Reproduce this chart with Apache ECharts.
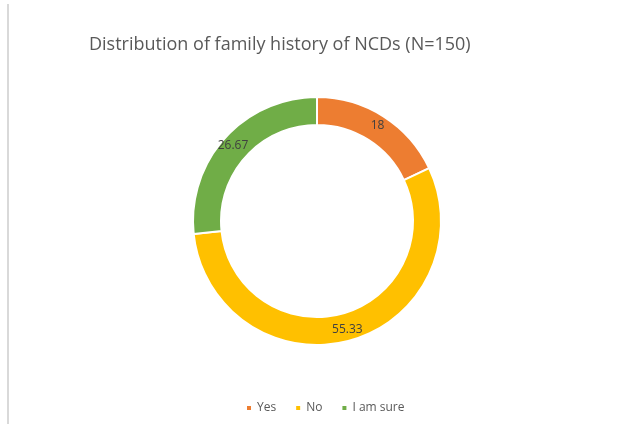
<!DOCTYPE html>
<html><head><meta charset="utf-8">
<script src="https://cdn.jsdelivr.net/npm/echarts@6/dist/echarts.min.js"></script>
<style>html,body{margin:0;padding:0;background:#fff}#c{width:620px;height:424px}</style>
</head><body><div id="c"></div>
<script>
const categories = ['Yes', 'No', 'I am sure'];
const values = [18, 55.33, 26.67];
const colors = ['#ED7D31', '#FFC000', '#70AD47'];
const titleText = 'Distribution of family history of NCDs (N=150)';

const chart = echarts.init(document.getElementById('c'), null, {renderer: 'canvas'});
chart.setOption({
  animation: false,
  backgroundColor: '#ffffff',
  title: {
    text: titleText, left: 84, top: 31,
    textStyle: {fontFamily: 'Open Sans', fontSize: 18, fontWeight: 'normal', color: '#595959'}
  },
  legend: {
    data: categories, top: 397, left: 240,
    icon: 'rect', itemWidth: 6, itemHeight: 6, itemGap: 18,
    textStyle: {fontFamily: 'Open Sans', fontSize: 12, color: '#595959'}
  },
  graphic: [
    {type: 'line', shape: {x1: 8, y1: 4, x2: 8, y2: 424}, style: {stroke: '#d9d9d9', lineWidth: 2}}
  ],
  series: [{
    type: 'pie',
    center: [317, 221],
    radius: [96, 124],
    startAngle: 90,
    clockwise: true,
    data: categories.map((n, i) => ({name: n, value: values[i], itemStyle: {color: colors[i]}})),
    itemStyle: {borderColor: '#ffffff', borderWidth: 2},
    label: {
      show: true, position: 'inside',
      formatter: p => String(p.value),
      fontFamily: 'Open Sans', fontSize: 12, color: '#404040'
    },
    labelLine: {show: false}
  }]
});
</script></body></html>
